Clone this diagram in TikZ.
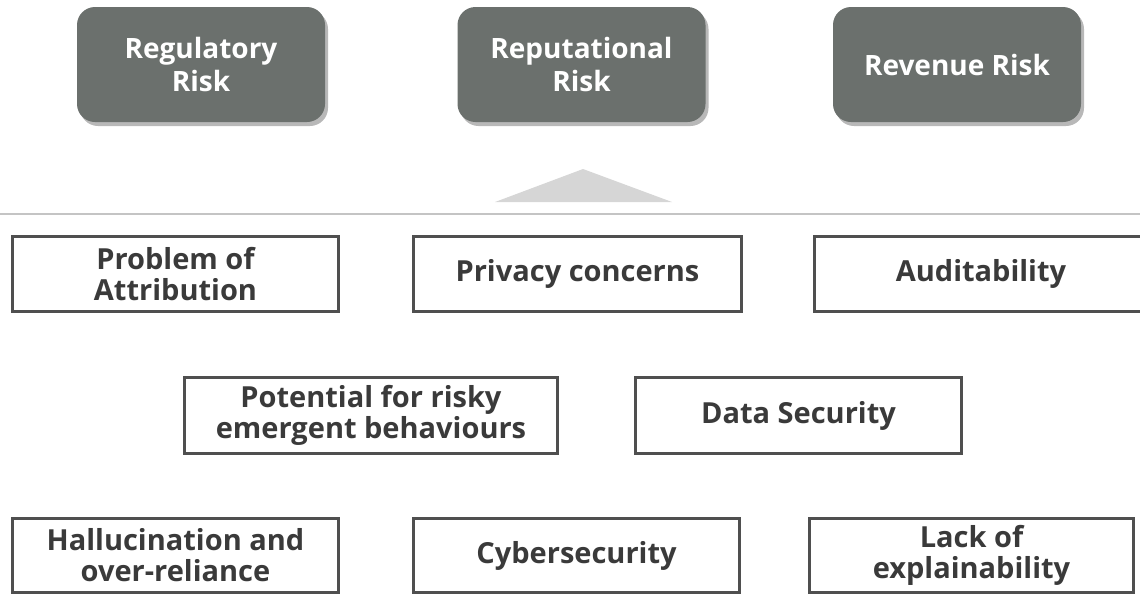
\documentclass[tikz,border=0pt]{standalone}
\usepackage{fontspec}
\setmainfont{Open Sans}
\usetikzlibrary{shadows}
\definecolor{riskfill}{HTML}{6B706D}
\definecolor{boxline}{HTML}{4F4F4F}
\definecolor{boxtext}{HTML}{3A3A3A}
\definecolor{trigray}{HTML}{D6D6D6}
\definecolor{sepgray}{HTML}{C4C4C4}
\tikzset{
  riskbox/.style={fill=riskfill, rounded corners=18pt, text=white, align=center,
    font=\fontsize{28}{33}\selectfont\bfseries, inner sep=0pt,
    minimum width=248pt, minimum height=115pt,
    drop shadow={shadow xshift=3pt, shadow yshift=-4pt, fill=black, opacity=0.28}},
  factorbox/.style={draw=boxline, line width=3pt, fill=white, text=boxtext, align=center,
    font=\fontsize{29}{31}\selectfont\bfseries, inner sep=0pt, minimum height=75pt}
}
\begin{document}
\begin{tikzpicture}[x=1pt,y=1pt]
\useasboundingbox (0,0) rectangle (1140,-595);
% risk boxes
\node[riskbox] (reg) at (201,-64.5) {Regulatory\\Risk};
\node[riskbox] (rep) at (581.5,-64.5) {Reputational\\Risk};
\node[riskbox] (rev) at (957,-64.5) {Revenue Risk};
% triangle and separator
\fill[trigray] (495,-202) -- (583,-169) -- (672,-202) -- cycle;
\draw[sepgray, line width=1.5pt] (0,-214) -- (1140,-214);
% row 1
\node[factorbox, minimum width=326pt] (attr) at (175.5,-274) {Problem of\\Attribution};
\node[factorbox, minimum width=328pt] (priv) at (577.5,-274) {Privacy concerns};
\node[factorbox, minimum width=333pt] (audit) at (981,-274) {Auditability};
% row 2
\node[factorbox, minimum width=373pt, minimum height=76pt] (emerg) at (371,-415.5) {Potential for risky\\emergent behaviours};
\node[factorbox, minimum width=326pt, minimum height=76pt] (datasec) at (798.5,-415.5) {Data Security};
% row 3
\node[factorbox, minimum width=326pt, minimum height=74pt] (halluc) at (175.5,-555.5) {Hallucination and\\over-reliance};
\node[factorbox, minimum width=326pt, minimum height=74pt] (cyber) at (576.5,-555.5) {Cybersecurity};
\node[factorbox, minimum width=324pt, minimum height=74pt] (explain) at (971.5,-555.5) {Lack of\\explainability};
\end{tikzpicture}
\end{document}
